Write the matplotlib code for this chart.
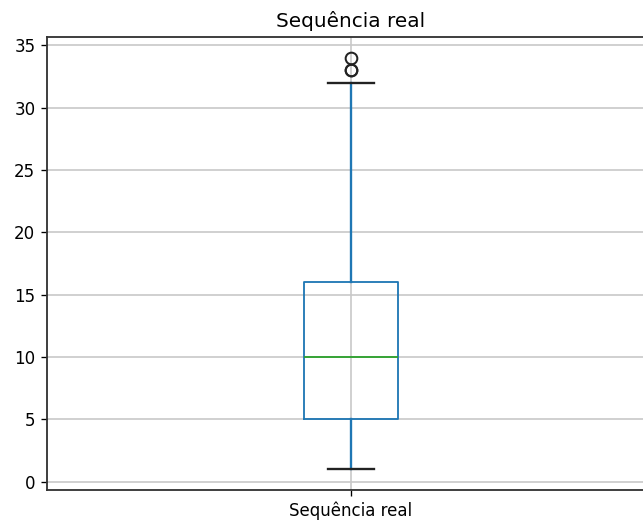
import matplotlib
matplotlib.use('Agg')
import matplotlib.pyplot as plt

# Box statistics
label = 'Sequência real'
q1 = 5
median = 10
q3 = 16
whisker_low = 1
whisker_high = 32
outliers = [33, 33, 34]

DPI = 120
fig = plt.figure(figsize=(643 / DPI, 520 / DPI), dpi=DPI)
ax = fig.add_axes([47 / 643, 30 / 520, 608 / 643, 453 / 520])

stats = [{
    'label': label,
    'q1': q1, 'med': median, 'q3': q3,
    'whislo': whisker_low, 'whishi': whisker_high,
    'fliers': outliers,
}]
ax.bxp(stats, positions=[1], widths=0.153,
       boxprops=dict(color='#1f77b4', linewidth=1.1),
       whiskerprops=dict(color='#1f77b4', linewidth=1.4),
       capprops=dict(color='#222222', linewidth=1.4),
       medianprops=dict(color='#2ca02c', linewidth=1.1),
       flierprops=dict(marker='o', markersize=7, markeredgewidth=1.2,
                       markeredgecolor='#222222', markerfacecolor='none'))

ax.set_xlim(0.5, 1.5)
ax.set_yticks(range(0, 36, 5))
ax.grid(True, color='#c8c8c8', linewidth=1.0)
ax.set_axisbelow(True)
for s in ax.spines.values():
    s.set_linewidth(1.1)
    s.set_color('#333333')
ax.tick_params(labelsize=10)
ax.set_title(label, fontsize=12)

fig.savefig('out.png', dpi=DPI)
